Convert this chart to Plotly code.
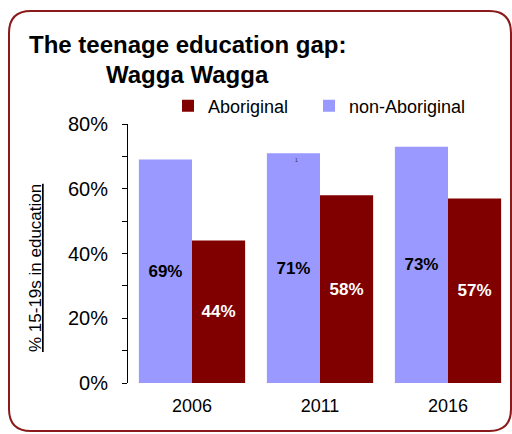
import plotly.graph_objects as go

# Share of 15-19 year olds in education, Wagga Wagga
years = ["2006", "2011", "2016"]
non_aboriginal = [0.69, 0.71, 0.73]
aboriginal = [0.44, 0.58, 0.57]
y_ticks = [0, 0.2, 0.4, 0.6, 0.8]

W, H = 512, 434
ML, MR, MT, MB = 128, 0, 124, 51
PW, PH = W - ML - MR, H - MT - MB

FONT = "Arial, Liberation Sans, sans-serif"
DARK_RED = "#800000"
LAVENDER = "#9999FF"
FRAME = "#8B1A1A"


def px_x(x):
    return (x - ML) / PW


def px_y(y):
    return (H - MB - y) / PH


fig = go.Figure()
fig.add_trace(go.Bar(
    x=years, y=non_aboriginal, name="non-Aboriginal", legend="legend2",
    marker=dict(color=LAVENDER, line=dict(width=0)),
    texttemplate="%{y:.0%}", textposition="inside", insidetextanchor="middle",
    textfont=dict(family=FONT, size=17, color="black", weight="bold"),
))
fig.add_trace(go.Bar(
    x=years, y=aboriginal, name="Aboriginal", legend="legend",
    marker=dict(color=DARK_RED, line=dict(width=0)),
    texttemplate="%{y:.0%}", textposition="inside", insidetextanchor="middle",
    textfont=dict(family=FONT, size=17, color="white", weight="bold"),
))

# rounded frame around the whole chart
x0, x1, y0, y1, r = 9, 511, 11, 431, 22
path = (
    f"M {px_x(x0 + r)} {px_y(y0)} L {px_x(x1 - r)} {px_y(y0)} "
    f"Q {px_x(x1)} {px_y(y0)} {px_x(x1)} {px_y(y0 + r)} "
    f"L {px_x(x1)} {px_y(y1 - r)} Q {px_x(x1)} {px_y(y1)} {px_x(x1 - r)} {px_y(y1)} "
    f"L {px_x(x0 + r)} {px_y(y1)} Q {px_x(x0)} {px_y(y1)} {px_x(x0)} {px_y(y1 - r)} "
    f"L {px_x(x0)} {px_y(y0 + r)} Q {px_x(x0)} {px_y(y0)} {px_x(x0 + r)} {px_y(y0)} Z"
)
fig.add_shape(type="path", path=path, xref="paper", yref="paper",
              line=dict(color=FRAME, width=2), layer="below")

fig.add_annotation(text="<b>The teenage education gap:</b>", xref="paper", yref="paper",
                   x=px_x(27), y=px_y(45), xanchor="left", yanchor="middle",
                   showarrow=False, font=dict(family=FONT, size=24, color="black"))
fig.add_annotation(text="<b>Wagga Wagga</b>", xref="paper", yref="paper",
                   x=px_x(104), y=px_y(75), xanchor="left", yanchor="middle",
                   showarrow=False, font=dict(family=FONT, size=24, color="black"))
fig.add_annotation(text="<u>% 15-19s in education</u>", xref="paper", yref="paper",
                   x=px_x(35), y=px_y(268), xanchor="center", yanchor="middle",
                   textangle=-90, showarrow=False,
                   font=dict(family=FONT, size=17, color="black"))
# small footnote marker inside the 2011 bar (category index 1)
fig.add_annotation(text="1", x=years.index("2011"), y=0.69, xref="x", yref="y",
                   xshift=-24, showarrow=False,
                   font=dict(family=FONT, size=5, color="#333333"))

legend_style = dict(orientation="h", yanchor="middle", xanchor="left",
                    font=dict(family=FONT, size=18, color="black"),
                    itemwidth=30, bgcolor="rgba(0,0,0,0)")

fig.update_layout(
    width=W, height=H,
    margin=dict(l=ML, r=MR, t=MT, b=MB),
    paper_bgcolor="white", plot_bgcolor="white",
    barmode="group", bargap=0.17, bargroupgap=0,
    showlegend=True,
    legend=dict(x=px_x(168), y=px_y(106), **legend_style),
    legend2=dict(x=px_x(309), y=px_y(106), **legend_style),
    font=dict(family=FONT, size=18, color="black"),
    xaxis=dict(type="category", range=[-0.5, 2.5], showline=False, ticks="",
               showgrid=False, zeroline=False, ticklabelstandoff=10,
               tickfont=dict(family=FONT, size=18, color="black")),
    yaxis=dict(range=[0, 0.8], tickvals=y_ticks, tickformat=".0%",
               showline=True, linecolor="black", linewidth=1,
               ticks="outside", ticklen=5, tickcolor="black", tickwidth=1,
               minor=dict(dtick=0.1, ticks="outside", ticklen=5, tickcolor="black"),
               ticklabelstandoff=10,
               showgrid=False, zeroline=False,
               tickfont=dict(family=FONT, size=20, color="black")),
)

fig.write_html("out.html")
